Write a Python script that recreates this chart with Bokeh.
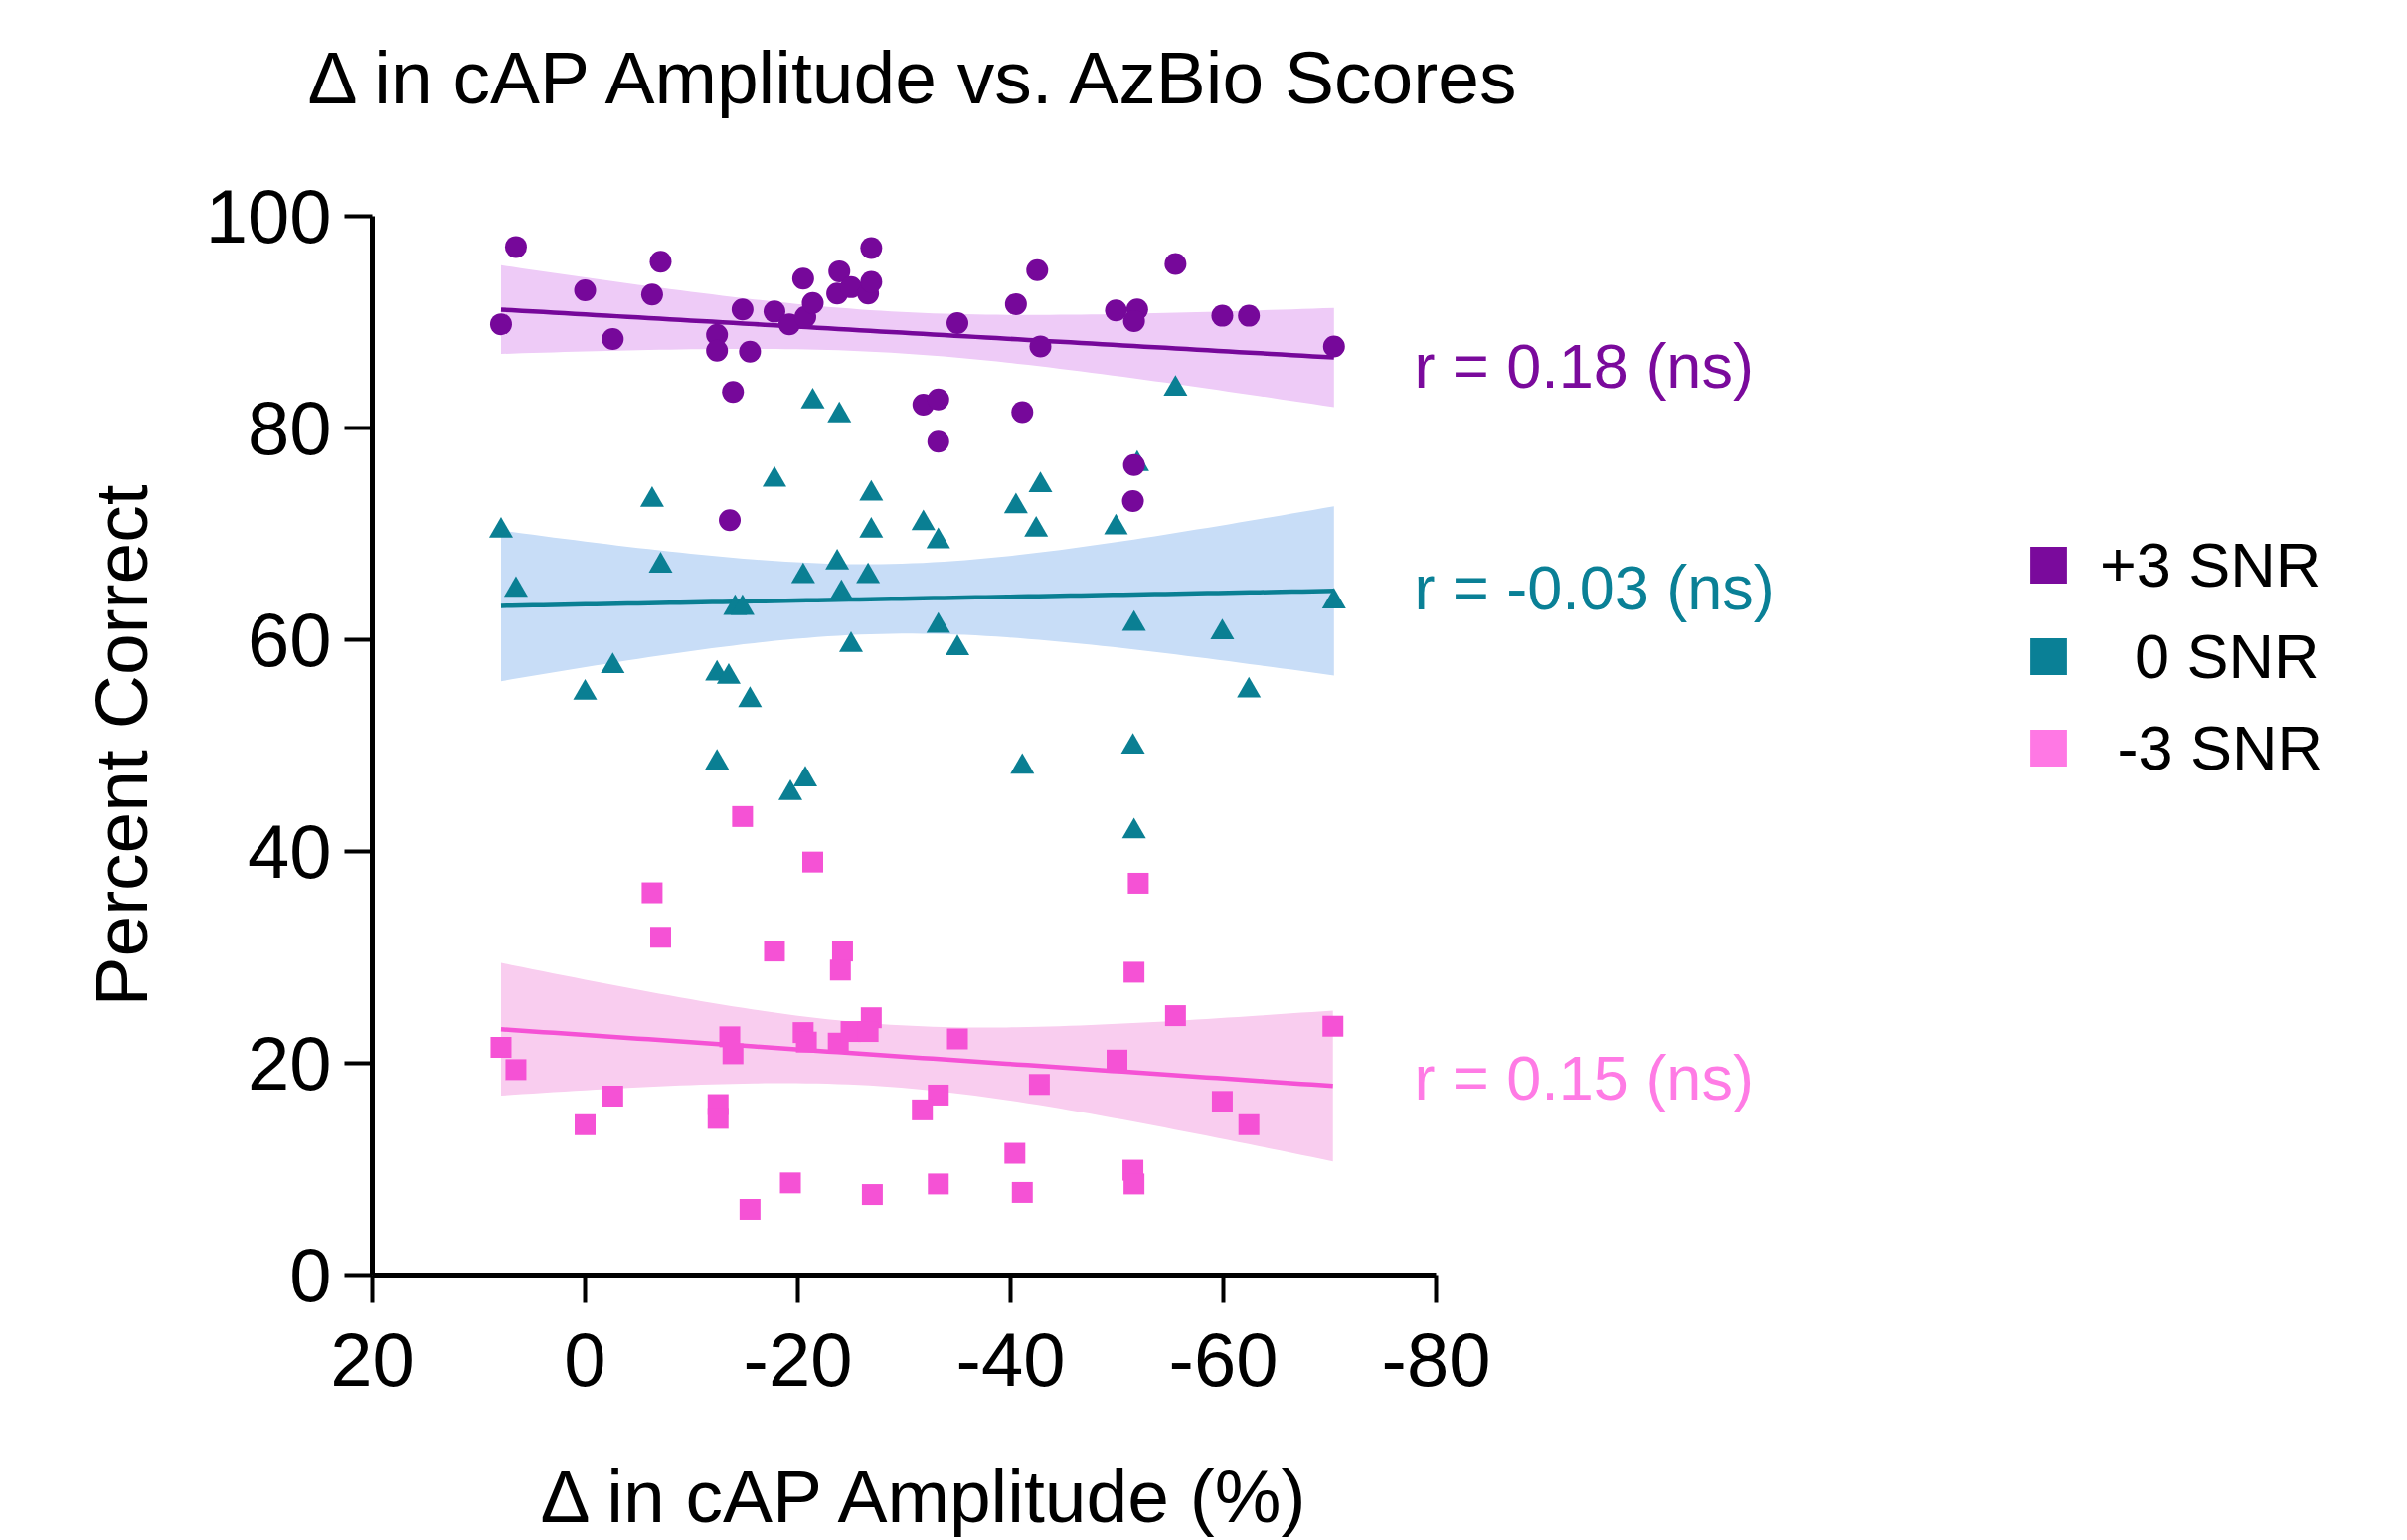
import numpy as np
from bokeh.plotting import figure
from bokeh.models import Range1d, FixedTicker, Label, Legend, LegendItem, Title
from bokeh.embed import file_html
from bokeh.resources import INLINE

FONT = "Liberation Sans"

# ---------------- data ----------------
plus3_x = [7.9, 6.5, 0.0, -2.6, -6.3, -7.1, -12.4, -12.4, -13.9, -13.6, -14.8, -15.5, -17.8, -19.2,
           -20.5, -20.7, -21.4, -23.9, -23.7, -25.0, -26.6, -26.9, -26.9, -31.8, -33.2, -33.2, -35.0,
           -40.5, -42.5, -42.8, -41.1, -49.9, -51.9, -51.6, -55.5, -59.9, -62.4, -70.4, -51.6, -51.5]
plus3_y = [89.8, 97.1, 93.0, 88.4, 92.6, 95.7, 88.8, 87.3, 83.4, 71.3, 91.2, 87.2, 91.0, 89.8,
           94.1, 90.5, 91.8, 94.8, 92.7, 93.3, 92.7, 97.0, 93.8, 82.2, 82.7, 78.7, 89.9,
           91.7, 94.9, 87.7, 81.5, 91.1, 91.2, 90.1, 95.5, 90.6, 90.6, 87.7, 76.5, 73.1]

zero_x = [7.9, 6.5, 0.0, -2.6, -6.3, -7.1, -12.4, -13.5, -14.1, -14.8, -15.5, -17.8, -20.5, -21.4,
          -23.9, -23.7, -24.1, -25.0, -26.9, -26.9, -26.6, -31.8, -33.2, -33.2, -12.4, -19.3, -20.7,
          -55.5, -42.8, -40.5, -42.4, -49.9, -51.9, -35.0, -51.6, -59.9, -70.4, -62.4, -41.1, -51.5, -51.6]
zero_y = [70.3, 64.7, 55.0, 57.5, 73.2, 67.0, 56.8, 56.5, 63.0, 63.0, 54.3, 75.1, 66.0, 82.5,
          81.2, 67.3, 64.4, 59.5, 73.8, 70.3, 66.0, 71.0, 69.3, 61.3, 48.4, 45.5, 46.8,
          83.7, 74.6, 72.6, 70.4, 70.6, 76.6, 59.2, 61.5, 60.7, 63.6, 55.2, 48.0, 49.9, 41.9]

minus3_x = [-14.8, -21.4, -6.3, -7.1, -17.8, -24.2, -24.0, 7.9, 6.5, -2.6, 0.0, -13.6, -13.9, -12.5,
            -12.5, -20.5, -20.8, -23.8, -25.0, -26.9, -26.6, -15.5, -19.3, -27.0, -33.2, -31.7, -33.2,
            -52.0, -51.6, -55.5, -70.3, -35.0, -50.0, -42.7, -59.9, -62.4, -40.4, -41.1, -51.5, -51.6]
minus3_y = [43.3, 39.0, 36.1, 31.9, 30.6, 30.6, 28.8, 21.5, 19.4, 16.9, 14.2, 22.5, 20.9, 16.1,
            14.8, 22.9, 22.0, 21.9, 23.0, 24.3, 23.0, 6.2, 8.7, 7.6, 17.0, 15.6, 8.6,
            37.0, 28.6, 24.5, 23.5, 22.3, 20.3, 18.0, 16.4, 14.2, 11.5, 7.8, 9.9, 8.6]

x_ticks = [20, 0, -20, -40, -60, -80]
y_ticks = [0, 20, 40, 60, 80, 100]
legend_labels = ["+3 SNR", "\u00a0\u00a00 SNR", "\u00a0-3 SNR"]
r_labels = ["r = 0.18 (ns)", "r = -0.03 (ns)", "r = 0.15 (ns)"]
r_label_y = [85.9, 64.9, 18.6]

# ---------------- styles ----------------
marker_colors = ["#76089A", "#0A7F93", "#F552D5"]
legend_colors = ["#7A0A9C", "#0A8096", "#FF78E4"]
band_colors = ["#EECBF7", "#C8DDF7", "#F9CDEF"]
text_colors = ["#7A0A9C", "#0A8096", "#FF7BE5"]


def fit_band(x, y, n_pts=80):
    x = np.asarray(x, float)
    y = np.asarray(y, float)
    n = len(x)
    b, a = np.polyfit(x, y, 1)
    xs = np.linspace(x.min(), x.max(), n_pts)
    yhat = a + b * xs
    resid = y - (a + b * x)
    s = np.sqrt(np.sum(resid ** 2) / (n - 2))
    sxx = np.sum((x - x.mean()) ** 2)
    t = 2.024
    se = s * np.sqrt(1.0 / n + (xs - x.mean()) ** 2 / sxx)
    return xs, yhat, yhat - t * se, yhat + t * se


p = figure(frame_width=2037, frame_height=1065,
           x_range=Range1d(20, -170.37), y_range=Range1d(0, 100),
           output_backend="svg", toolbar_location=None,
           min_border_left=374, min_border_right=10,
           min_border_top=217, min_border_bottom=267)
p.outline_line_color = None
p.grid.visible = False
p.background_fill_color = "white"
p.border_fill_color = "white"

series = [(plus3_x, plus3_y, "circle", 22),
          (zero_x, zero_y, "triangle", 24),
          (minus3_x, minus3_y, "square", 21)]

fits = [fit_band(sx, sy) for sx, sy, _, _ in series]
for (xs, yhat, lo, hi), bc in zip(fits, band_colors):
    p.varea(x=xs, y1=lo, y2=hi, fill_color=bc, fill_alpha=1.0)
for (xs, yhat, lo, hi), mc in zip(fits, marker_colors):
    p.line(x=xs, y=yhat, line_color=mc, line_width=4.5)

for i in [2, 1, 0]:
    sx, sy, mk, sz = series[i]
    p.scatter(x=sx, y=sy, marker=mk, size=sz, fill_color=marker_colors[i], line_color=None)

# legend (square swatches; the swatch renderers hold no drawable point)
items = []
for lab, c in zip(legend_labels, legend_colors):
    r = p.scatter(x=[float("nan")], y=[float("nan")], marker="square", size=37,
                  fill_color=c, line_color=None)
    items.append(LegendItem(label=lab, renderers=[r]))
legend = Legend(items=items, location=(1640, 484), glyph_width=92, glyph_height=92,
                spacing=0, padding=0, margin=0, label_standoff=6,
                label_text_font=FONT, label_text_font_size="63px", label_text_color="black",
                border_line_color=None, background_fill_alpha=0)
p.add_layout(legend, "center")

for txt, yv, c in zip(r_labels, r_label_y, text_colors):
    p.add_layout(Label(x=-77.94, y=yv, text=txt, text_baseline="middle", text_align="left",
                       text_font=FONT, text_font_size="63px", text_color=c))

# axes
for ax in [p.xaxis[0], p.yaxis[0]]:
    ax.axis_line_width = 5
    ax.axis_line_color = "black"
    ax.major_tick_line_width = 4
    ax.major_tick_line_color = "black"
    ax.major_tick_out = 28
    ax.major_tick_in = 0
    ax.minor_tick_out = 0
    ax.minor_tick_in = 0
    ax.major_label_text_font = FONT
    ax.major_label_text_font_size = "76px"
    ax.major_label_text_color = "black"
    ax.axis_label_text_font = FONT
    ax.axis_label_text_font_size = "75px"
    ax.axis_label_text_font_style = "normal"
    ax.axis_label_text_color = "black"

p.xaxis.ticker = FixedTicker(ticks=x_ticks)
p.xaxis.major_label_overrides = {t: str(t) for t in x_ticks}
p.xaxis.bounds = (-80, 20)
p.xaxis.major_label_standoff = 30

p.yaxis.ticker = FixedTicker(ticks=y_ticks)
p.yaxis.bounds = (0, 100)
p.yaxis.major_label_standoff = 13
p.yaxis.axis_label = "Percent Correct"
p.yaxis.axis_label_standoff = 40

# x-axis title, centred under the -80..20 span
p.add_layout(Title(text="\u0394 in cAP Amplitude (%)", align="left", offset=169, standoff=128,
                   text_font=FONT, text_font_size="75px", text_font_style="normal",
                   text_color="black"), "below")

# the blank second line lifts the title towards the top edge
p.title.text = "\u0394 in cAP Amplitude vs. AzBio Scores\n"
p.title.text_font = FONT
p.title.text_font_size = "75px"
p.title.text_font_style = "normal"
p.title.text_color = "black"
p.title.align = "left"
p.title.offset = -65
p.title.standoff = 28

open("out.html", "w").write(file_html(p, INLINE))
